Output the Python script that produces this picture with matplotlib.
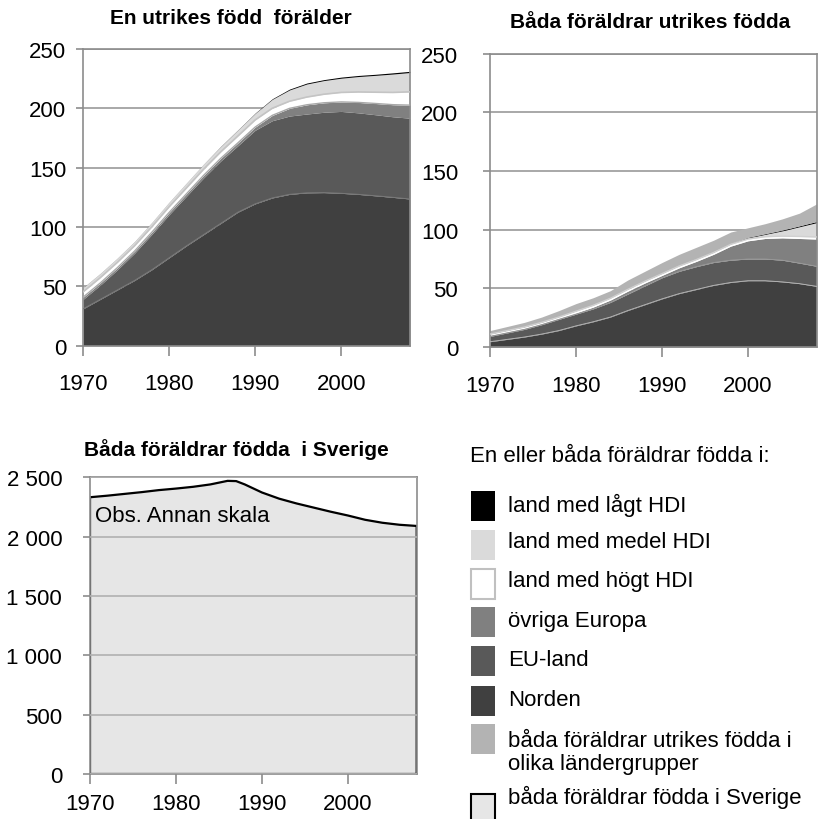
import matplotlib
matplotlib.use("Agg")
import matplotlib.pyplot as plt
from matplotlib.patches import Rectangle

plt.rcParams['font.family'] = ['Liberation Sans', 'DejaVu Sans']

# år (vartannat år, sista 2008)
ar = [1970, 1972, 1974, 1976, 1978, 1980, 1982, 1984, 1986, 1988,
      1990, 1992, 1994, 1996, 1998, 2000, 2002, 2004, 2006, 2008]

# En utrikes född förälder (tusental)
en_norden = [31, 39, 47, 55, 64, 74, 84, 93.5, 103, 112.5,
             119.5, 124.5, 127.5, 128.8, 129, 128.4, 127.5, 126.3, 125, 123.6]
en_eu = [8, 12, 17, 23, 29.8, 36.3, 41.8, 47.8, 52.6, 56,
         62, 65.1, 66, 66.4, 67.7, 69, 68.7, 68.3, 67.9, 68.1]
en_ovriga = [1.8, 1.8, 1.8, 1.8, 1.8, 1.9, 2.0, 2.1, 2.2, 2.4,
             2.7, 4.5, 6.5, 7.8, 8, 8, 8.8, 9.5, 10.2, 11]
en_hogt = [4.5, 4.5, 4.5, 4.5, 4.6, 4.8, 5.0, 5.2, 5.5, 5.8,
           6.0, 6.0, 6.0, 6.5, 7.2, 8, 8.8, 9.5, 10.3, 11.2]
en_medel = [3.5, 3.5, 3.5, 3.5, 3.6, 3.8, 4.0, 4.2, 4.5, 5.0,
            5.5, 7.5, 9.5, 11, 11.5, 12, 13, 14.2, 15.5, 16.3]
en_lagt = [0.1, 0.1, 0.1, 0.1, 0.1, 0.1, 0.1, 0.1, 0.2, 0.2,
           0.3, 0.5, 0.7, 0.8, 0.8, 0.9, 0.9, 0.9, 1.0, 1.0]

# Båda föräldrar utrikes födda (tusental)
bada_norden = [4.5, 6.5, 8.5, 11, 14, 18, 21.5, 25.5, 31, 36,
               41, 45.5, 49, 52.5, 55, 56.5, 56.5, 55.5, 54, 51.7]
bada_eu = [4.5, 5.5, 6.5, 8, 9.5, 10, 11, 12.5, 14, 16,
           18, 19, 19.5, 19.5, 19, 18.5, 18.5, 18.5, 17.5, 17.1]
bada_ovriga = [1, 1, 1, 1, 1, 1, 1.5, 2, 2.5, 2.5,
               2, 3, 4.5, 7, 12, 15.5, 17.5, 19, 21, 23.2]
bada_hogt = [1, 1, 1, 1, 1, 1.5, 1.5, 1.5, 1.5, 1.5,
             1.5, 1.5, 1.5, 1.5, 1.5, 1.5, 1.5, 1.5, 1.7, 1.8]
bada_medel = [0.3, 0.3, 0.3, 0.3, 0.5, 0.5, 0.5, 0.5, 0.5, 0.5,
              0.5, 0.5, 0.5, 0.5, 0.5, 1, 2, 4.5, 8.3, 12.2]
bada_lagt = [0.2, 0.2, 0.2, 0.2, 0.2, 0.2, 0.2, 0.2, 0.2, 0.2,
             0.3, 0.3, 0.3, 0.3, 0.3, 0.5, 0.6, 0.7, 0.8, 1.0]
bada_olika = [2.5, 3, 3.5, 4, 4.8, 5.8, 5.8, 5.8, 7.3, 7.8,
              8.7, 9.2, 9.7, 9.7, 9.7, 8.1, 8.5, 9.5, 10.8, 15]

# Båda föräldrar födda i Sverige (tusental)
sv_ar = [1970, 1972, 1974, 1976, 1978, 1980, 1982, 1984, 1986, 1987, 1988,
         1990, 1992, 1994, 1996, 1998, 2000, 2002, 2004, 2006, 2008]
sverige = [2332, 2345, 2360, 2375, 2392, 2405, 2420, 2440, 2470, 2468, 2440,
           2372, 2320, 2280, 2245, 2210, 2178, 2142, 2117, 2100, 2090]

x_ticks = [1970, 1980, 1990, 2000]
y_ticks_små = [0, 50, 100, 150, 200, 250]
y_ticks_sv = [0, 500, 1000, 1500, 2000, 2500]
y_labels_sv = ["0", "500", "1 000", "1 500", "2 000", "2 500"]

legend_etiketter = ["land med lågt HDI", "land med medel HDI", "land med högt HDI",
                    "övriga Europa", "EU-land", "Norden",
                    "båda föräldrar utrikes födda i\nolika ländergrupper",
                    "båda föräldrar födda i Sverige"]

C_NORDEN = '#404040'
C_EU = '#595959'
C_OVRIGA = '#808080'
C_HOGT = '#ffffff'
C_MEDEL = '#dadada'
C_LAGT = '#000000'
C_OLIKA = '#b3b3b3'
C_SVERIGE = '#e6e6e6'
GRID = '#9a9a9a'
FRAME = '#8c8c8c'
FS = 16

W, H = 831, 820
fig = plt.figure(figsize=(W / 100, H / 100), dpi=100)


def ax_px(left, top, right, bottom):
    return fig.add_axes([left / W, 1 - bottom / H, (right - left) / W, (bottom - top) / H])


def stil(ax, ymax, yticks, ylabels, ypad, xpad=13):
    ax.set_xlim(1970, 2008)
    ax.set_ylim(0, ymax)
    ax.set_xticks(x_ticks)
    ax.set_xticklabels([str(t) for t in x_ticks])
    ax.set_yticks(yticks)
    ax.set_yticklabels(ylabels)
    for s in ax.spines.values():
        s.set_color(FRAME)
        s.set_linewidth(1.2)
    ax.tick_params(axis='x', direction='out', length=7, width=1.2, color=FRAME,
                   labelsize=FS, pad=xpad)
    ax.tick_params(axis='y', direction='out', length=5, width=1.2, color=FRAME,
                   labelsize=FS, pad=ypad)
    ax.yaxis.grid(True, color=GRID, linewidth=1.2)


def lager(ax, serier, farger):
    bas = [0.0] * len(ar)
    toppar = []
    for vals, c in zip(serier, farger):
        topp = [b + v for b, v in zip(bas, vals)]
        ax.fill_between(ar, bas, topp, color=c, linewidth=0, zorder=2)
        toppar.append(topp)
        bas = topp
    return toppar


# Panel 1
ax1 = ax_px(83, 50, 410, 346.7)
stil(ax1, 250, y_ticks_små, [str(t) for t in y_ticks_små], 7)
ax1.set_axisbelow(True)
t1 = lager(ax1, [en_norden, en_eu, en_ovriga, en_hogt, en_medel, en_lagt],
           [C_NORDEN, C_EU, C_OVRIGA, C_HOGT, C_MEDEL, C_LAGT])
ax1.plot(ar, t1[0], color='#7a7a7a', lw=0.7, zorder=3)
ax1.plot(ar, t1[2], color='#a8a8a8', lw=1.0, zorder=3)
ax1.plot(ar, t1[3], color='#c4c4c4', lw=1.2, zorder=3)

# Panel 2
ax2 = ax_px(490, 54.7, 816.7, 348)
stil(ax2, 250, y_ticks_små, [str(t) for t in y_ticks_små], 18)
ax2.set_axisbelow(True)
t2 = lager(ax2, [bada_norden, bada_eu, bada_ovriga, bada_hogt, bada_medel, bada_lagt, bada_olika],
           [C_NORDEN, C_EU, C_OVRIGA, C_HOGT, C_MEDEL, C_LAGT, C_OLIKA])
ax2.plot(ar, t2[0], color='#bdbdbd', lw=0.6, zorder=3)
ax2.plot(ar, t2[1], color='#9a9a9a', lw=0.6, zorder=3)
ax2.plot(ar, t2[3], color='#d0d0d0', lw=1.0, zorder=3)

# Panel 3
ax3 = ax_px(90, 478.3, 416.7, 775)
stil(ax3, 2500, y_ticks_sv, y_labels_sv, 15, xpad=7)
ax3.set_axisbelow(False)
ax3.yaxis.grid(True, color='#b0b0b0', linewidth=1.2)
ax3.fill([sv_ar[0]] + sv_ar + [sv_ar[-1]], [0] + sverige + [0],
         facecolor=C_SVERIGE, edgecolor='black', linewidth=1.6, zorder=1)
ax3.text(1970.6, 2175, "Obs. Annan skala", fontsize=FS, va='center', ha='left')

# Titlar
fig.text(231 / W, 1 - 18 / H, "En utrikes född  förälder", fontsize=15, fontweight='bold',
         ha='center', va='center')
fig.text(650 / W, 1 - 22 / H, "Båda föräldrar utrikes födda", fontsize=15, fontweight='bold',
         ha='center', va='center')
fig.text(236 / W, 1 - 450 / H, "Båda föräldrar födda  i Sverige", fontsize=15, fontweight='bold',
         ha='center', va='center')

# Förklaring
fig.text(470 / W, 1 - 457 / H, "En eller båda föräldrar födda i:", fontsize=FS,
         ha='left', va='center')
leg_farger = [C_LAGT, C_MEDEL, C_HOGT, C_OVRIGA, C_EU, C_NORDEN, C_OLIKA, C_SVERIGE]
leg_kanter = [None, None, '#c0c0c0', None, None, None, None, 'black']
patch_topp = [491.7, 531, 570, 608, 646.7, 687, 725, 795]
text_y = [505, 543, 582, 622, 660, 701, 753, 797]
for lab, fc, ec, py, ty in zip(legend_etiketter, leg_farger, leg_kanter, patch_topp, text_y):
    fig.add_artist(Rectangle((471 / W, 1 - (py + 30) / H), 24 / W, 30 / H,
                             transform=fig.transFigure, facecolor=fc,
                             edgecolor=ec if ec else fc, linewidth=1.5 if ec else 0))
    fig.text(508 / W, 1 - ty / H, lab, fontsize=FS, ha='left', va='center',
             linespacing=1.12)

fig.savefig("out.png", dpi=100)
